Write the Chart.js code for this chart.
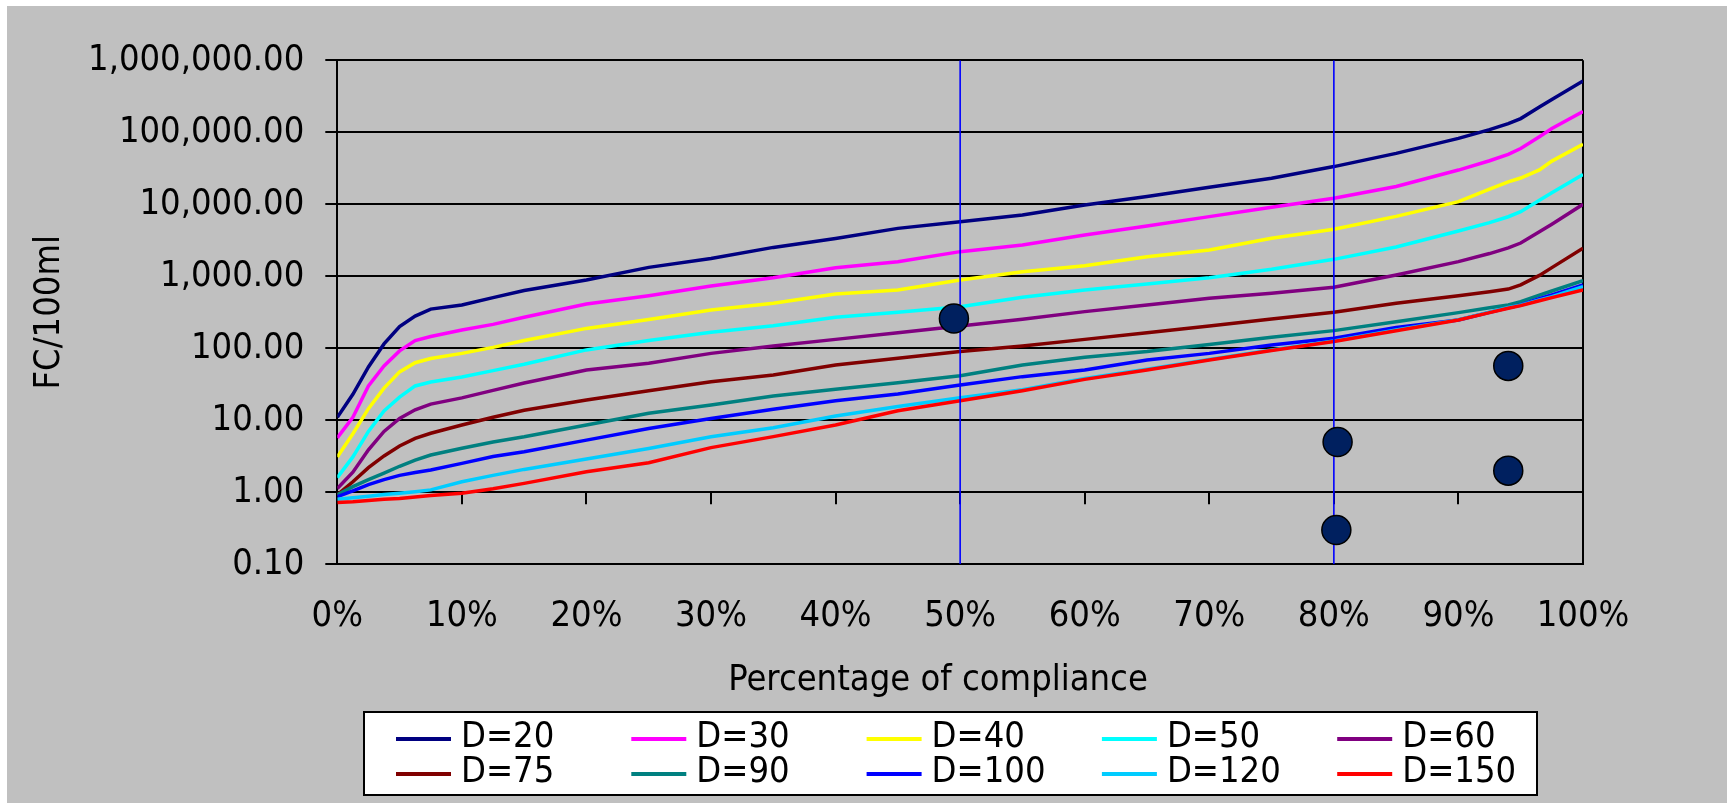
<!DOCTYPE html>
<html>
<head>
<meta charset="utf-8">
<script src="https://cdn.jsdelivr.net/npm/chart.js@4.4.1/dist/chart.umd.min.js"></script>
<style>
  html, body { margin: 0; padding: 0; background: #ffffff; }
  #wrap { width: 1733px; height: 809px; position: relative; }
</style>
</head>
<body>
<div id="wrap"><canvas id="chart" width="1733" height="809"></canvas></div>
<script>
const FONT = "'DejaVu Sans Condensed', 'Liberation Sans', sans-serif";

// Percentage of compliance (x positions of the curve vertices)
const compliance = [0, 1.25, 2.5, 3.75, 5, 6.25, 7.5, 10, 12.5, 15, 20, 25, 30, 35, 40, 45, 50,
  55, 60, 65, 70, 75, 80, 85, 90, 92.5, 94, 95, 96.5, 97.5, 100];

// FC/100ml for each dilution curve
const d20  = [11, 23, 55, 115, 200, 280, 350, 400, 505, 635, 890, 1330, 1770, 2520, 3360, 4630, 5740,
  7110, 9790, 12800, 17200, 23000, 33400, 51000, 82400, 109000, 132000, 155000, 225000, 286000, 515000];
const d30  = [5.7, 11, 30, 57, 92, 128, 146, 180, 215, 270, 412, 538, 733, 957, 1318, 1596, 2200,
  2720, 3750, 5000, 6740, 9080, 12100, 17700, 29900, 40300, 49500, 59600, 86900, 113000, 194000];
const d40  = [3.1, 6.5, 14.5, 28, 47, 63, 72, 85, 103, 128, 189, 252, 340, 421, 567, 645, 888,
  1160, 1406, 1875, 2320, 3375, 4500, 6800, 10900, 16300, 20500, 23200, 30100, 39800, 68000];
const d50  = [1.6, 3.1, 7, 13.5, 21, 30, 34, 40, 49, 60, 95, 128, 167, 206, 269, 316, 379,
  510, 646, 782, 957, 1250, 1720, 2550, 4260, 5560, 6720, 7900, 11400, 14500, 26000];
const d60  = [1.13, 1.9, 3.9, 7, 10.6, 14, 16.8, 20.5, 26, 33, 50, 62, 85, 108, 133, 165, 204,
  253, 323, 400, 494, 580, 703, 1040, 1600, 2070, 2480, 2900, 4150, 5300, 10000];
const d75  = [0.92, 1.4, 2.2, 3.2, 4.4, 5.6, 6.6, 8.6, 11, 13.8, 19.1, 25.8, 34.4, 42.5, 58.6, 72.5, 90,
  108, 133, 165, 204, 255, 316, 421, 538, 610, 665, 760, 1030, 1320, 2450];
const d90  = [0.92, 1.2, 1.5, 1.85, 2.3, 2.8, 3.3, 4.1, 5, 5.9, 8.6, 12.5, 16.3, 21.7, 26.9, 33.3, 41.7,
  58.6, 75, 90, 113, 142, 176, 234, 313, 365, 400, 444, 548, 625, 869];
const d100 = [0.87, 1.05, 1.28, 1.5, 1.72, 1.88, 2.04, 2.52, 3.15, 3.66, 5.3, 7.7, 10.6, 14.2, 18.7, 23.2, 30.9,
  40.4, 50, 68.9, 85, 111, 138, 195, 247, 315, 366, 400, 488, 553, 757];
const d120 = [0.80, 0.84, 0.88, 0.93, 0.97, 1.02, 1.08, 1.4, 1.72, 2.08, 2.9, 4.07, 5.9, 7.9, 11.5, 15.5, 20.6,
  26.5, 38, 51, 70, 95, 126, 180, 250, 318, 368, 396, 470, 520, 720];
const d150 = [0.72, 0.74, 0.77, 0.8, 0.82, 0.86, 0.9, 0.97, 1.12, 1.33, 1.93, 2.58, 4.17, 5.93, 8.6, 13.6, 18.7,
  25.8, 37, 50, 68.9, 93, 124, 175, 247, 313, 360, 391, 457, 505, 646];

const seriesValues = [d20, d30, d40, d50, d60, d75, d90, d100, d120, d150];
const seriesLabels = ['D=20', 'D=30', 'D=40', 'D=50', 'D=60', 'D=75', 'D=90', 'D=100', 'D=120', 'D=150'];
const seriesColors = ['#000080', '#FF00FF', '#FFFF00', '#00FFFF', '#800080',
  '#800000', '#008080', '#0000FF', '#00CCFF', '#FF0000'];

// Observed samples
const obsX = [49.5, 80.3, 80.2, 94.0, 94.0];
const obsY = [260, 5.0, 0.30, 57, 2.0];

// Reference compliance levels
const markerX = [50, 80];

// Axis ticks
const yTickValues = [0.1, 1, 10, 100, 1000, 10000, 100000, 1000000];
const yTickLabels = ['0.10', '1.00', '10.00', '100.00', '1,000.00', '10,000.00', '100,000.00', '1,000,000.00'];
const xTickValues = [0, 10, 20, 30, 40, 50, 60, 70, 80, 90, 100];
const xTickLabels = ['0%', '10%', '20%', '30%', '40%', '50%', '60%', '70%', '80%', '90%', '100%'];
const xTitle = 'Percentage of compliance';
const yTitle = 'FC/100ml';

const datasets = [];
seriesValues.forEach((vals, i) => {
  datasets.push({
    label: seriesLabels[i],
    data: compliance.map((x, k) => ({ x: x, y: vals[k] })),
    borderColor: seriesColors[i],
    backgroundColor: seriesColors[i],
    borderWidth: 3.5,
    pointRadius: 0,
    tension: 0,
    fill: false,
    order: 20 - i
  });
});
markerX.forEach(x => {
  datasets.push({
    label: '',
    isMarker: true,
    data: [{ x: x, y: 0.1 }, { x: x, y: 1000000 }],
    borderColor: '#0000FF',
    borderWidth: 1.6,
    pointRadius: 0,
    fill: false,
    order: 2
  });
});
datasets.push({
  label: '',
  isMarker: true,
  data: obsX.map((x, k) => ({ x: x, y: obsY[k] })),
  showLine: false,
  pointRadius: 14.5,
  pointBackgroundColor: '#00205F',
  pointBorderColor: '#000000',
  pointBorderWidth: 1.5,
  order: 1
});

const backgroundPlugin = {
  id: 'panel',
  beforeDraw(chart) {
    const ctx = chart.ctx;
    ctx.save();
    ctx.fillStyle = '#FFFFFF';
    ctx.fillRect(0, 0, chart.width, chart.height);
    ctx.fillStyle = '#C0C0C0';
    ctx.fillRect(7, 6, 1720, 797);
    ctx.restore();
  }
};

// Category-axis tick marks sit on the line where the axis crosses at 1.00
const crossTicksPlugin = {
  id: 'crossTicks',
  beforeDatasetsDraw(chart) {
    const xs = chart.scales.x, ys = chart.scales.y;
    const y0 = ys.getPixelForValue(1);
    const ctx = chart.ctx;
    ctx.save();
    ctx.strokeStyle = '#000000';
    ctx.lineWidth = 2;
    xs.ticks.forEach(t => {
      const px = Math.round(xs.getPixelForValue(t.value));
      ctx.beginPath();
      ctx.moveTo(px, y0);
      ctx.lineTo(px, y0 + 12);
      ctx.stroke();
    });
    ctx.restore();
  }
};

const titleLegendPlugin = {
  id: 'titleLegend',
  afterDraw(chart) {
    const ctx = chart.ctx;
    ctx.save();
    // x-axis title
    ctx.fillStyle = '#000000';
    ctx.font = '36px ' + FONT;
    ctx.textAlign = 'center';
    ctx.textBaseline = 'middle';
    ctx.fillText(xTitle, 938, 681);

    // legend box
    const L = 364, T = 712, R = 1537, B = 795;
    ctx.fillStyle = '#FFFFFF';
    ctx.fillRect(L, T, R - L, B - T);
    ctx.strokeStyle = '#000000';
    ctx.lineWidth = 2;
    ctx.strokeRect(L, T, R - L, B - T);

    const items = chart.data.datasets.filter(d => !d.isMarker);
    const colStep = 235.3, rowYs = [739, 774];
    ctx.textAlign = 'left';
    items.forEach((d, i) => {
      const col = i % 5, row = Math.floor(i / 5);
      const x = 396 + col * colStep;
      const y = rowYs[row];
      ctx.strokeStyle = d.borderColor;
      ctx.lineWidth = 4;
      ctx.beginPath();
      ctx.moveTo(x, y);
      ctx.lineTo(x + 55, y);
      ctx.stroke();
      ctx.fillStyle = '#000000';
      ctx.fillText(d.label, x + 65, y - 1);
    });
    ctx.restore();
  }
};

new Chart(document.getElementById('chart'), {
  type: 'line',
  data: { datasets: datasets },
  options: {
    responsive: false,
    animation: false,
    devicePixelRatio: 1,
    layout: { padding: { left: 0, top: 60.3, right: 150, bottom: 0 } },
    plugins: { legend: { display: false }, tooltip: { enabled: false } },
    scales: {
      x: {
        type: 'linear',
        min: 0,
        max: 100,
        afterBuildTicks: s => { s.ticks = xTickValues.map(v => ({ value: v })); },
        afterFit: s => { s.height = 809 - 564.3; },
        ticks: {
          callback: v => xTickLabels[xTickValues.indexOf(v)],
          font: { family: FONT, size: 36 },
          color: '#000000',
          padding: 31,
          maxRotation: 0,
          autoSkip: false
        },
        grid: {
          drawTicks: false,
          lineWidth: 2,
          color: c => (c.tick && c.tick.value === 100) ? '#000000' : 'rgba(0,0,0,0)'
        },
        border: { display: true, color: '#000000', width: 2 }
      },
      y: {
        type: 'logarithmic',
        min: 0.1,
        max: 1000000,
        afterBuildTicks: s => { s.ticks = yTickValues.map(v => ({ value: v, major: true })); },
        afterFit: s => { s.width = 337.3; },
        ticks: {
          callback: v => yTickLabels[yTickValues.indexOf(v)],
          font: { family: FONT, size: 36 },
          color: '#000000',
          padding: 21,
          autoSkip: false
        },
        grid: { color: '#000000', lineWidth: 2, drawTicks: true, tickLength: 12, tickColor: '#000000' },
        border: { display: true, color: '#000000', width: 2 },
        title: {
          display: true,
          text: yTitle,
          font: { family: FONT, size: 36 },
          color: '#000000',
          padding: { top: 28, bottom: 0 }
        }
      }
    }
  },
  plugins: [backgroundPlugin, crossTicksPlugin, titleLegendPlugin]
});
</script>
</body>
</html>
